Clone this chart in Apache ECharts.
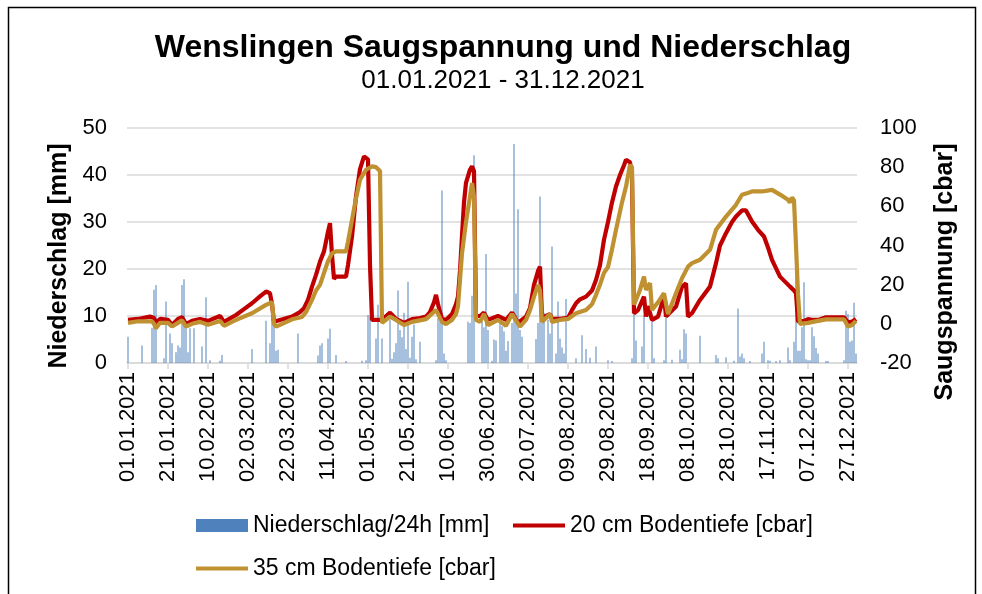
<!DOCTYPE html>
<html>
<head>
<meta charset="utf-8">
<script src="https://cdn.jsdelivr.net/npm/echarts@6/dist/echarts.min.js"></script>
<style>
  html, body { margin: 0; padding: 0; background: #fff; }
  #main { width: 982px; height: 594px; }
</style>
</head>
<body>
<div id="main"></div>
<script>
// Tagesdaten 2021: Niederschlag als [Tag, mm], Saugspannung als [Tag, cbar]
var rainMm = [
  [0,5.6],[7,3.7],[12,7.5],[13,15.6],[14,16.6],[18,1],[19,13.1],[21,6.3],[22,4.2],[24,2.3],
  [25,3.7],[26,3.3],[27,16.6],[28,17.8],[29,7.7],[30,2.3],[31,7.4],[33,7.4],[37,3.5],[39,14.0],
  [41,0.6],[46,0.5],[47,1.7],[62,3.0],[69,9.0],[71,4.2],[72,9.5],[73,8.5],[74,2.6],[75,2.8],
  [85,6.3],[95,1.6],[96,3.7],[97,4.2],[100,5.2],[101,7.3],[104,1.7],[109,0.4],[117,0.5],[119,0.6],
  [120,10.2],[121,9.9],[124,5.2],[125,12.4],[127,5.2],[131,9.2],[132,0.9],[133,2.3],[134,4.2],[135,15.4],
  [136,7],[137,5.5],[138,10.7],[139,3],[140,17.3],[141,1.1],[142,5.6],[143,8.2],[144,0.8],[146,4.5],
  [154,0.6],[155,9.5],[156,8.8],[157,36.7],[158,2],[159,0.6],[170,8.8],[171,8.5],[172,14.3],[173,44.2],
  [177,8.9],[178,7.6],[179,23.2],[180,7],[182,0.5],[183,5.0],[184,4.8],[186,9.2],[187,7.8],[188,6.7],
  [189,2.6],[190,4.7],[192,8.5],[193,46.6],[194,14.8],[195,32.7],[196,7.0],[197,5.6],[204,5.1],[205,8.5],
  [206,35.4],[207,8.5],[208,10.7],[210,9.2],[211,6.3],[212,24.8],[214,2],[215,13.1],[216,5.2],[217,3.3],
  [218,2],[219,13.6],[224,1.0],[227,5.9],[229,3],[231,1.1],[234,3.5],[240,0.6],[242,0.4],[252,1.0],
  [253,10.7],[254,4.8],[257,3.5],[258,10.2],[262,9.2],[263,1],[268,0.6],[269,9.6],[272,0.7],[276,2.8],
  [277,0.8],[278,7.2],[279,6.3],[286,5.8],[294,1.7],[295,1],[299,1.2],[303,0.5],[305,11.6],[306,1.4],
  [307,2],[308,1],[311,0.4],[317,2],[318,4.5],[320,0.6],[321,0.5],[324,0.4],[326,0.6],[330,3.3],
  [331,0.6],[333,4.5],[334,22.8],[335,2.6],[336,2.6],[337,7.6],[338,17.2],[339,0.8],[340,0.6],[341,0.6],
  [342,7.6],[343,5.7],[344,3.2],[345,2],[349,0.4],[350,0.4],[358,0.6],[359,11.1],[360,10.4],[361,4.5],
  [362,4.8],[363,12.8],[364,2]
];

var cbar20 = [
  [0,2.0],[5,2.5],[11,3.7],[13,3.0],[14,0.5],[16,2.5],[20,2.0],[22,-0.6],[25,2.5],[27,3.4],
  [29,-0.1],[32,1.5],[36,2.4],[40,1.5],[46,4.0],[48,1.0],[54,4.5],[58,7.5],[62,10.5],[66,14],
  [69,16.5],[71,15.6],[72,10],[73,1.1],[76,2.0],[82,3.7],[86,6],[88,8],[90,12.2],[92,19],
  [94,25],[96,31.8],[98,37],[100,47],[101,51.4],[102,35],[103,23],[104,24.1],[109,24.1],[110,30],
  [112,44.6],[114,65],[116,79],[118,85.5],[119,86],[120,84],[121,30],[122,2.0],[126,2.0],[128,3],
  [131,5.7],[134,2.5],[138,0.5],[142,2.4],[146,3],[149,3.7],[151,6],[153,11],[154,14.8],[155,10],
  [157,2.4],[159,2.0],[162,5],[164,10],[165,14],[166,27],[167,45],[168,62],[169,72],[171,78.7],
  [172,80.4],[173,78],[174,4],[176,4],[178,5.7],[180,2.0],[185,4],[189,2],[192,5.7],[195,0.5],
  [199,3.7],[201,8],[203,19.9],[205,27],[206,29.2],[207,3.7],[209,4],[211,5],[212,2.5],[216,2.5],
  [220,3],[222,7],[224,10.5],[226,12.5],[229,13.9],[232,17],[234,22.4],[236,30],[238,43],[240,52],
  [242,62],[244,70.1],[246,76],[248,81],[249,83.8],[251,82.5],[252,75],[253,5.4],[255,7],[256,7],
  [258,13.9],[259,3.7],[260,9],[262,2.0],[265,3.7],[268,13.9],[269,3.7],[274,8.8],[277,19],[279,20.7],
  [280,3.7],[282,5.4],[286,12.2],[291,19],[294,31],[296,40],[299,46.3],[302,52],[304,54.8],[307,57.9],
  [309,57.9],[312,52.2],[315,48],[318,44.6],[320,39],[322,32.7],[326,24.1],[331,19],[333,17],[334,15.6],
  [335,1.1],[338,1.5],[340,2.4],[342,2],[345,2.0],[349,3.3],[355,3.3],[358,3.3],[360,0.8],[362,1.1],
  [364,2.5]
];

var cbar35 = [
  [0,0.5],[5,1.3],[12,1.3],[13,0],[14,-2.3],[16,0.5],[20,0.5],[22,-1.4],[25,0.5],[27,1.8],
  [29,-1.4],[32,0],[36,1],[40,-0.5],[46,1.5],[48,-1.0],[54,2.0],[62,5.4],[69,9.7],[72,11],
  [73,0],[74,-1.4],[76,-0.5],[82,2.3],[87,3.5],[89,6],[92,12.2],[94,17],[96,19.9],[98,26],
  [100,32],[102,36],[104,37],[109,37],[110,42],[112,53.1],[114,64],[116,73.6],[119,78.7],[122,80.4],
  [124,80],[126,78],[127,0.5],[131,3.7],[134,2],[138,-0.6],[142,1],[149,2.4],[154,7.1],[157,1],
  [159,-0.1],[162,2],[164,5],[165,9],[167,36],[169,52],[171,65],[172,71.9],[173,65],[174,2],
  [176,1],[178,5],[180,-0.6],[185,2],[189,-1],[192,5],[196,-1.4],[199,2],[201,7],[203,13.9],
  [205,19.9],[206,17],[207,1],[211,5],[212,1],[216,2],[220,2.5],[224,5.4],[229,7.1],[232,10],
  [234,14.8],[236,20],[238,26],[240,29],[242,38],[244,48],[247,62],[249,70.1],[251,81.2],[252,80],
  [253,9.7],[256,17.3],[258,24.1],[259,17.3],[261,20.8],[262,7.1],[265,11],[268,15.6],[270,5],[274,15.6],
  [277,23.3],[280,29.2],[282,31],[286,32.7],[291,37.8],[294,48],[299,54.8],[304,60.8],[307,65.9],[309,66.5],
  [312,67.6],[317,67.6],[322,68.4],[326,66],[330,63.3],[331,62],[332,64.5],[333,63],[334,40],[335,15],
  [336,0],[337,-0.6],[340,0.5],[345,1.5],[349,2.3],[355,2.3],[358,2.3],[360,-1.4],[362,-0.6],[364,1.5]
];

var seriesNames = ['Niederschlag/24h [mm]', '20 cm Bodentiefe [cbar]', '35 cm Bodentiefe [cbar]'];

// Kategorien: jeder Tag 2021
var days = [];
for (var i = 0; i < 365; i++) {
  var dt = new Date(Date.UTC(2021, 0, 1 + i));
  var dd = ('0' + dt.getUTCDate()).slice(-2);
  var mm = ('0' + (dt.getUTCMonth() + 1)).slice(-2);
  days.push(dd + '.' + mm + '.' + dt.getUTCFullYear());
}

var rainDaily = days.map(function () { return '-'; });
rainMm.forEach(function (p) { rainDaily[p[0]] = p[1]; });

var FONT = 'Liberation Sans';
var legendText = { fontFamily: FONT, fontSize: 23, color: '#000' };
var chart = echarts.init(document.getElementById('main'));

chart.setOption({
  backgroundColor: '#fff',
  animation: false,
  textStyle: { fontFamily: FONT },
  title: {
    text: 'Wenslingen Saugspannung und Niederschlag',
    subtext: '01.01.2021 - 31.12.2021',
    left: 498,
    textAlign: 'center',
    top: 27,
    itemGap: 4,
    textStyle: { fontFamily: FONT, fontSize: 32, fontWeight: 'bold', color: '#000' },
    subtextStyle: { fontFamily: FONT, fontSize: 26, color: '#000' }
  },
  graphic: [
    { type: 'rect', z: -10, silent: true,
      shape: { x: 8.5, y: 7.5, width: 967, height: 700 },
      style: { fill: null, stroke: '#000', lineWidth: 1.5 } },
    { type: 'text', x: 59, y: 256, rotation: Math.PI / 2,
      style: { text: 'Niederschlag [mm]', font: 'bold 25px "Liberation Sans"',
               fill: '#000', align: 'center', verticalAlign: 'middle' } },
    { type: 'text', x: 945, y: 272, rotation: Math.PI / 2,
      style: { text: 'Saugspannung [cbar]', font: 'bold 25px "Liberation Sans"',
               fill: '#000', align: 'center', verticalAlign: 'middle' } }
  ],
  legend: [
    {
      left: 191, top: 509, itemWidth: 52, itemHeight: 13, itemGap: 5,
      textStyle: legendText,
      data: [{ name: seriesNames[0], icon: 'rect' }]
    },
    {
      left: 508, top: 509, itemWidth: 52, itemHeight: 4, itemGap: 5,
      textStyle: legendText,
      data: [{ name: seriesNames[1], icon: 'rect' }]
    },
    {
      left: 191, top: 552, itemWidth: 52, itemHeight: 4, itemGap: 5,
      textStyle: legendText,
      data: [{ name: seriesNames[2], icon: 'rect' }]
    }
  ],
  grid: { left: 127, right: 125, top: 128, bottom: 231 },
  xAxis: {
    type: 'category',
    data: days,
    boundaryGap: true,
    axisLine: { lineStyle: { color: '#d9d9d9', width: 1.5 } },
    axisTick: { show: true, alignWithLabel: true, interval: 19, length: 6,
                lineStyle: { color: '#d9d9d9', width: 1.5 } },
    axisLabel: { interval: 19, rotate: 90, fontSize: 22, color: '#000', margin: 9 },
    splitLine: { show: false }
  },
  yAxis: [
    {
      type: 'value', min: 0, max: 50, interval: 10,
      axisLine: { show: false }, axisTick: { show: false },
      axisLabel: { fontSize: 22, color: '#000', margin: 20 },
      splitLine: { lineStyle: { color: '#d9d9d9', width: 1.5 } }
    },
    {
      type: 'value', min: -20, max: 100, interval: 20,
      axisLine: { show: false }, axisTick: { show: false },
      axisLabel: { fontSize: 22, color: '#000', margin: 23 },
      splitLine: { show: false }
    }
  ],
  series: [
    {
      name: seriesNames[0], type: 'bar', yAxisIndex: 0,
      barWidth: 1,
      itemStyle: { color: '#4f81bd' },
      data: rainDaily
    },
    {
      name: seriesNames[1], type: 'line', yAxisIndex: 1,
      symbol: 'none', smooth: false,
      lineStyle: { color: '#c00000', width: 4.2 },
      itemStyle: { color: '#c00000' },
      data: cbar20
    },
    {
      name: seriesNames[2], type: 'line', yAxisIndex: 1,
      symbol: 'none', smooth: false,
      lineStyle: { color: '#bf9130', width: 4.2 },
      itemStyle: { color: '#bf9130' },
      data: cbar35
    }
  ]
});
</script>
</body>
</html>
